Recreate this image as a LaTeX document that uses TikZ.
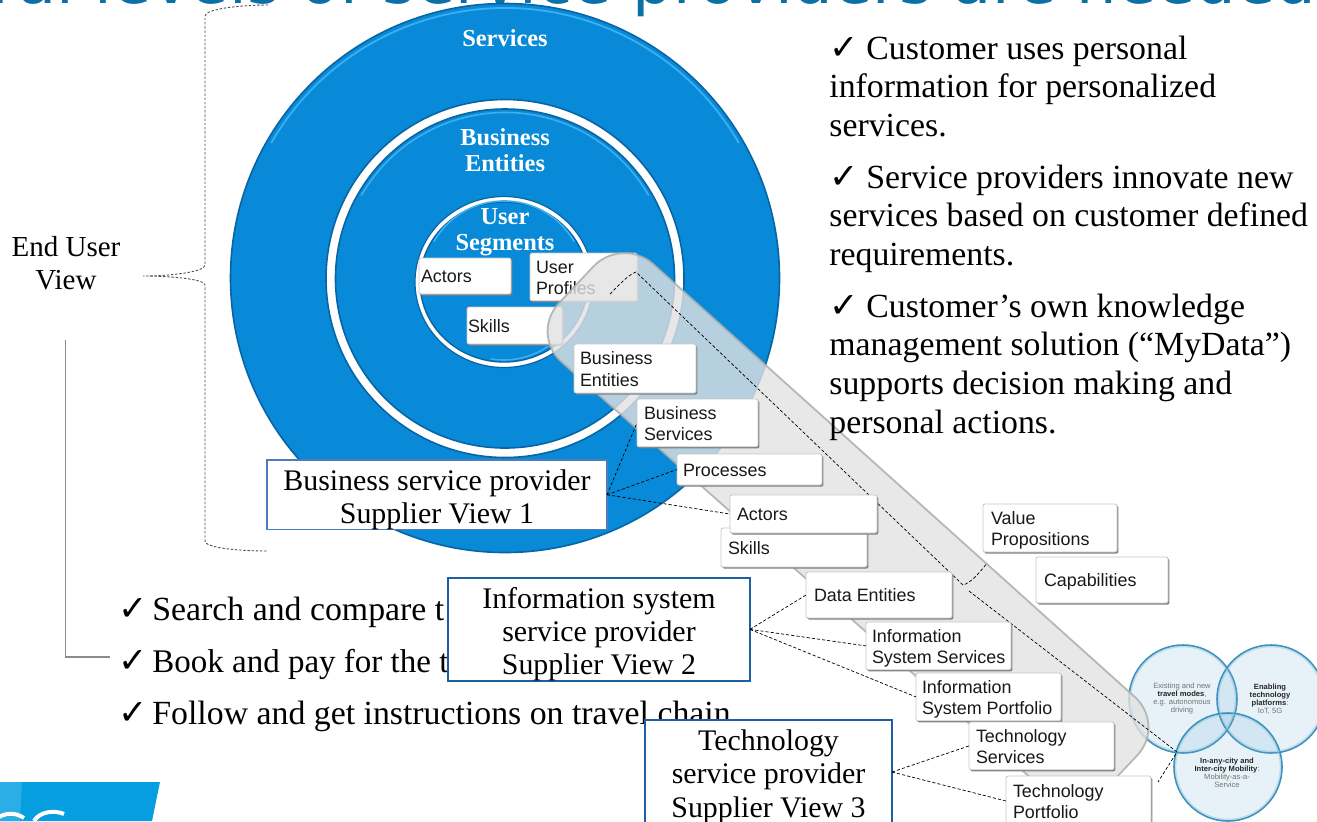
\documentclass[tikz,border=0pt]{standalone}
\usepackage{fontspec}
\usetikzlibrary{calc}
\setmainfont{Liberation Serif}
\newfontfamily\arialf{Liberation Sans}
\newfontfamily\titlef{DejaVu Sans}
\newfontfamily\chkf{DejaVu Sans}
\definecolor{discblue}{RGB}{8,138,216}
\definecolor{discdark}{RGB}{9,100,165}
\definecolor{dischi}{RGB}{60,175,240}
\definecolor{titleblue}{RGB}{11,112,165}
\definecolor{boxblue}{RGB}{31,95,160}
\definecolor{boxblue2}{RGB}{74,126,187}
\definecolor{logoblue}{RGB}{6,158,224}
\definecolor{vennfill}{RGB}{111,176,214}
\definecolor{vennedge}{RGB}{50,140,185}
\newcommand{\chk}{\smash{{\chkf\fontsize{17.5}{17.5}\selectfont ✓}}}
\newcommand{\topgap}{\rule{0pt}{15pt}}
\newcommand{\card}[7]{%
  \pgfmathsetlengthmacro\cardw{((#4)-(#2))*0.5pt}%
  \pgfmathsetlengthmacro\cardh{((#5)-(#3))*0.5pt}%
  \pgfmathsetlengthmacro\cardi{(#6)*0.5pt}%
  \node[cardbox,minimum width=\cardw,minimum height=\cardh] (#1) at (#2,#3)
    {\makebox[\cardw][l]{\hspace*{\cardi}\begin{tabular}[c]{@{}l@{}}\rule{0pt}{10pt}#7\end{tabular}}};}
\tikzset{
  cardbox/.style={anchor=north west,inner sep=0pt,outer sep=0pt,draw=black!22,line width=.4pt,fill=white,rounded corners=1pt,
    text=black!90,font=\arialf\fontsize{8.95}{10.7}\selectfont,
    preaction={fill=black!50,transform canvas={xshift=.7pt,yshift=-.8pt}}},
  supplier/.style={draw=boxblue,line width=.75pt,fill=white,inner sep=0pt,outer sep=0pt,align=center,text=black,
    font=\fontsize{14.95}{16.6}\selectfont},
  link/.style={draw=black,line width=.35pt,dash pattern=on 1.6pt off 1pt},
  brace/.style={draw=black!70,line width=.45pt,dash pattern=on 1.2pt off .9pt},
  ringtext/.style={text=white,align=center,font=\bfseries\fontsize{12.2}{13}\selectfont},
  bodytext/.style={anchor=base west,inner sep=0pt,text=black,font=\fontsize{16.9}{19.4}\selectfont},
  vennc/.style={fill=vennfill,fill opacity=.17,draw=vennedge,draw opacity=.95,line width=.8pt},
  vennglow/.style={draw=vennedge!55,draw opacity=.45,line width=.8pt},
  venntext/.style={align=center,text=black!55,font=\arialf\fontsize{3.8}{4}\selectfont},
  lens/.style={fill={rgb,255:red,226;green,226;blue,226},fill opacity=.8,draw=black!32,draw opacity=.85,line width=.9pt,rounded corners=21pt}
}
\begin{document}
\begin{tikzpicture}[x=0.5pt,y=-0.5pt]
\useasboundingbox (0,0) rectangle (1317,821);
\clip (0,0) rectangle (1317,821);
% title
\node[anchor=base east,inner sep=0pt,text=titleblue,font=\titlef\fontsize{32}{32}\selectfont] (title) at (1317,3.5) {Several levels of service providers are needed};
% logo
\fill[logoblue] (0,782) -- (160,782) -- (152,821) -- (0,821) -- cycle;
\fill[logoblue!85!white] (0,782) -- (22,782) -- (20,821) -- (0,821) -- cycle;
\draw[white,line width=2pt] (-6,820) .. controls (5,812) and (15,812) .. (24,818);
\draw[white,line width=2pt] (34,821) .. controls (40,811) and (55,810) .. (64,814);
% discs
\fill[discblue,draw=discdark,line width=.8pt] (505,278) circle[radius=274.5];
\draw[dischi,line width=.9pt] ($(505,278)+(-150:270)$) arc[start angle=-150,end angle=-30,radius=270];
\fill[white,draw=discdark,line width=.8pt] (505,278.5) circle[radius=179];
\fill[discblue,draw=discdark,line width=.8pt] (505,278.5) circle[radius=169.5];
\draw[dischi,line width=.8pt] ($(505,278.5)+(-150:166)$) arc[start angle=-150,end angle=-30,radius=166];
\fill[white,draw=discdark,line width=.6pt] (504,282) ellipse[x radius=89,y radius=85.5];
\fill[discblue,draw=discdark,line width=.7pt] (504,282) ellipse[x radius=84,y radius=80];
\draw[dischi,line width=.8pt] ($(504,282)+(-150:81)$) arc[start angle=-150,end angle=-30,radius=81];
\draw[dischi,line width=.8pt] ($(504,282)+(40:78)$) arc[start angle=40,end angle=100,radius=78];
\node[ringtext] (tservices) at (505,38) {Services};
\node[ringtext] (tentities) at (505,150) {Business\\[-.2pt]Entities};
\node[ringtext] (tsegments) at (505,232.5) {User\\Segments};
% cards under the lens
\card{cactors}{419}{258}{511}{294}{2}{Actors}
\card{cprofiles}{530}{253}{637}{297}{6}{User\\Profiles}
\card{cskills}{467}{307}{562}{344}{1}{Skills}
% venn
\draw[vennc] (1183,699) circle[radius=54];
\draw[vennc] (1271,699) circle[radius=54];
\draw[vennc] (1228,767) circle[radius=54];
\draw[vennglow] (1183,699) circle[radius=52.5];
\draw[vennglow] (1271,699) circle[radius=52.5];
\draw[vennglow] (1228,767) circle[radius=52.5];
\node[venntext] (v1) at (1182,699) {Existing and new\\\textcolor{black!85}{\bfseries travel modes},\\e.g. autonomous\\driving};
\node[venntext] (v2) at (1270,699) {\textcolor{black!85}{\bfseries Enabling}\\\textcolor{black!85}{\bfseries technology}\\\textcolor{black!85}{\bfseries platforms}:\\IoT, 5G};
\node[venntext] (v3) at (1227,773) {\textcolor{black!85}{\bfseries In-any-city and}\\\textcolor{black!85}{\bfseries Inter-city Mobility}:\\Mobility-as-a-\\Service};
% lens
\draw[lens] (622,236) -- (1166,725) -- (1077,819) -- (530,334) -- cycle;
% lens dotted connectors
\coordinate (p1) at (610,294);
\coordinate (p2) at (636,272);
\coordinate (p3) at (963,585);
\coordinate (p4) at (987,563);
\coordinate (q1) at (969,591);
\coordinate (q2) at (1177,752);
\coordinate (q3) at (1158,782);
\draw[link] (p1) .. controls (620,284) and (628,275) .. (p2) -- (p3) .. controls (970,583) and (978,575) .. (p4);
\draw[link] (q1) -- (q2) -- (q3);
% cards
\card{bentities}{574}{344}{696}{393}{6}{Business\\Entities}
\card{bservices}{637}{399}{758}{446}{7}{Business\\Services}
\card{bprocesses}{677}{454}{822}{485}{6}{Processes}
\card{bskills}{721}{528}{867}{567}{7}{Skills}
\card{bactors}{730}{495}{877}{533}{7}{Actors}
\card{idata}{806}{572}{952}{618}{8}{Data Entities}
\card{iservices}{866}{622}{1011}{668}{6}{Information\\System Services}
\card{iportfolio}{916}{673}{1061}{720}{6}{Information\\System Portfolio}
\card{tservicesc}{969}{722}{1114}{769}{7}{Technology\\Services}
\card{tportfolio}{1006}{776}{1151}{826}{7}{Technology\\Portfolio}
\card{vprops}{983}{504}{1117}{552}{8}{Value\\Propositions}
\card{vcaps}{1036}{557}{1168}{603}{8}{Capabilities}
% end user brace
\node[inner sep=0pt,align=center,font=\fontsize{14.5}{16.6}\selectfont] (enduser) at (66,263) {End User\\View};
\coordinate (b0) at (268,5);
\coordinate (b1) at (205,16);
\coordinate (b2) at (205,265);
\coordinate (b3) at (143,276);
\coordinate (b4) at (205,285);
\coordinate (b5) at (205,541);
\coordinate (b6) at (268,551);
\draw[brace] (b0) .. controls (240,5) and (205,9) .. (b1) -- (b2) .. controls (205,272) and (170,276) .. (b3)
   .. controls (170,276) and (205,279) .. (b4) -- (b5) .. controls (205,548) and (240,551) .. (b6);
% grey leader
\coordinate (g0) at (65.5,340);
\coordinate (g1) at (65.5,657);
\coordinate (g2) at (110,657);
\draw[black!45,line width=.8pt] (g0) -- (g1) -- (g2);
% left bullets
\node[bodytext] (l1) at (118,620) {\makebox[17pt][l]{\chk}Search and compare t};
\node[bodytext,font=\fontsize{16.5}{19.4}\selectfont] (l2) at (118,672) {\makebox[17pt][l]{\chk}Book and pay for the t};
\node[bodytext] (l3) at (118,724) {\makebox[17pt][l]{\chk}Follow and get instructions on travel chain};
% right bullets
\node[bodytext] (r1) at (829,59) {\begin{tabular}[t]{@{}l@{}}\makebox[18.5pt][l]{\chk}Customer uses personal\\information for personalized\\services.\end{tabular}};
\node[bodytext] (r2) at (829,188) {\begin{tabular}[t]{@{}l@{}}\makebox[18.5pt][l]{\chk}Service providers innovate new\\services based on customer defined\\requirements.\end{tabular}};
\node[bodytext] (r3) at (829,317) {\begin{tabular}[t]{@{}l@{}}\makebox[18.5pt][l]{\chk}Customer’s own knowledge\\management solution (“MyData”)\\supports decision making and\\personal actions.\end{tabular}};
% supplier boxes
\node[supplier,draw=boxblue2,line width=.6pt,minimum width=170pt,minimum height=34pt,anchor=north west] (sup1) at (267,460) {\topgap Business service provider\\Supplier View 1};
\node[supplier,minimum width=151pt,minimum height=51pt,anchor=north west] (sup2) at (448,578) {\topgap Information system\\service provider\\Supplier View 2};
\node[supplier,minimum width=123.5pt,minimum height=52pt,anchor=north west] (sup3) at (645,720) {\topgap Technology\\service provider\\Supplier View 3};
% connectors
\draw[link] (sup1.east) -- (bservices.west);
\draw[link] (sup1.east) -- (bprocesses.west);
\draw[link] (sup1.east) -- (bactors.west);
\draw[link] (sup2.east) -- (idata.west);
\draw[link] (sup2.east) -- (iservices.west);
\draw[link] (sup2.east) -- (iportfolio.west);
\draw[link] (sup3.east) -- (tservicesc.west);
\draw[link] (sup3.east) -- (tportfolio.west);
\end{tikzpicture}
\end{document}
